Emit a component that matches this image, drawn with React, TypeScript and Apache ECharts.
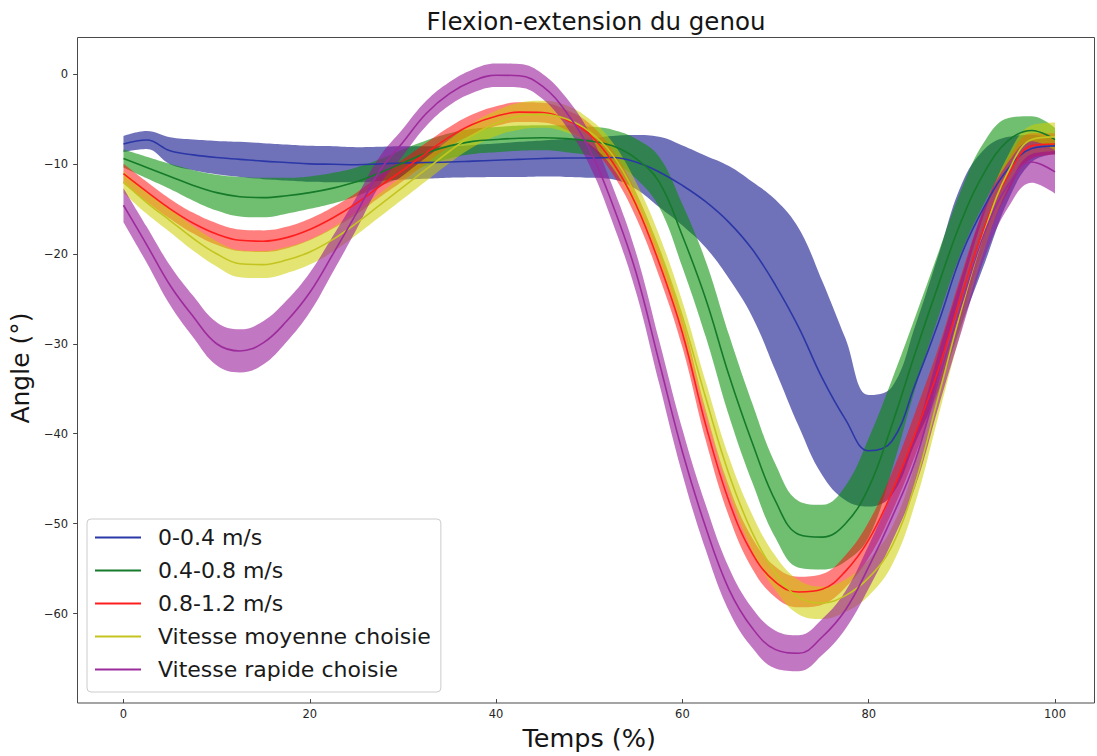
import React, { useEffect, useRef } from "react";
import * as echarts from "echarts";

const percents = [0, 2.5, 5, 7.5, 10, 12.5, 15, 17.5, 20, 22.5, 25, 27.5, 30, 32.5, 35, 37.5, 40, 42.5, 45, 47.5, 50, 52.5, 55, 57.5, 60, 62.5, 65, 67.5, 70, 72.5, 75, 77.5, 80, 82.5, 85, 87.5, 90, 92.5, 95, 97.5, 100];

const xTickLabels = ["0", "20", "40", "60", "80", "100"];
const yTicks = [-60, -50, -40, -30, -20, -10, 0];

const seriesNames = ["0-0.4 m/s", "0.4-0.8 m/s", "0.8-1.2 m/s", "Vitesse moyenne choisie", "Vitesse rapide choisie"];

const blueMean = [-7.8, -7.35, -8.55, -9.0, -9.3, -9.5, -9.7, -9.85, -10.0, -10.05, -10.1, -10.0, -9.9, -9.85, -9.8, -9.7, -9.6, -9.5, -9.4, -9.35, -9.35, -9.3, -9.8, -10.9, -12.4, -14.2, -16.5, -19.5, -23.5, -28.2, -33.8, -38.4, -41.9, -40.8, -34.5, -27.6, -20.0, -14.6, -10.5, -8.3, -8.0];
const blueSd = [0.9, 1.0, 1.5, 1.7, 1.85, 1.95, 2.0, 2.0, 2.0, 2.0, 1.95, 1.9, 1.85, 1.8, 1.75, 1.8, 1.85, 1.95, 2.0, 2.1, 2.2, 2.4, 3.0, 3.9, 4.45, 5.1, 6.25, 7.5, 9.5, 11.0, 10.8, 9.0, 6.2, 6.0, 6.5, 7.5, 7.8, 6.3, 3.5, 1.5, 0.9];

const greenMean = [-9.4, -10.4, -11.4, -12.4, -13.2, -13.65, -13.75, -13.55, -13.2, -12.7, -12.0, -11.0, -9.9, -8.8, -8.0, -7.5, -7.3, -7.15, -7.1, -7.2, -7.45, -8.0, -9.4, -12.0, -18.0, -25.0, -33.5, -41.0, -47.5, -51.2, -51.5, -50.0, -46.0, -39.0, -31.0, -23.4, -16.2, -10.8, -7.4, -6.3, -7.3];
const greenSd = [1.0, 1.2, 1.4, 1.7, 2.0, 2.2, 2.2, 2.0, 1.8, 1.7, 1.6, 1.5, 1.5, 1.4, 1.4, 1.4, 1.4, 1.4, 1.4, 1.5, 1.6, 1.8, 2.2, 2.8, 3.5, 4.2, 4.5, 4.4, 4.1, 3.7, 3.6, 4.2, 5.5, 5.0, 4.0, 3.6, 3.5, 3.4, 2.5, 1.6, 1.3];

const redMean = [-11.1, -13.1, -15.0, -16.6, -17.8, -18.5, -18.6, -18.2, -17.3, -16.0, -14.4, -12.5, -10.7, -8.8, -7.0, -5.6, -4.7, -4.25, -4.3, -5.1, -6.7, -9.8, -14.5, -21.0, -28.8, -39.0, -47.5, -53.3, -56.5, -57.6, -57.3, -55.3, -51.8, -46.5, -40.0, -32.8, -24.5, -16.8, -11.2, -8.0, -7.8];
const redSd = [1.1, 1.1, 1.1, 1.15, 1.2, 1.2, 1.2, 1.2, 1.2, 1.2, 1.2, 1.2, 1.2, 1.15, 1.1, 1.1, 1.1, 1.1, 1.1, 1.1, 1.2, 1.3, 1.4, 1.5, 1.6, 1.7, 1.7, 1.7, 1.7, 1.7, 1.7, 1.8, 2.0, 2.2, 2.4, 2.4, 2.4, 2.2, 1.8, 1.4, 1.2];

const yellowMean = [-12.0, -14.3, -16.3, -18.3, -20.0, -21.1, -21.2, -20.7, -19.8, -18.4, -16.6, -14.6, -12.6, -10.6, -8.6, -6.8, -5.5, -4.7, -4.5, -5.0, -6.4, -9.0, -13.5, -19.5, -27.0, -36.0, -44.5, -51.0, -55.5, -58.2, -58.8, -58.0, -56.0, -52.5, -45.5, -35.8, -26.0, -17.3, -10.8, -7.3, -7.0];
const yellowSd = [1.2, 1.25, 1.3, 1.35, 1.4, 1.5, 1.5, 1.45, 1.4, 1.35, 1.3, 1.3, 1.3, 1.3, 1.3, 1.35, 1.4, 1.5, 1.5, 1.5, 1.4, 1.4, 1.5, 1.6, 1.7, 1.8, 1.9, 2.0, 1.9, 1.9, 1.8, 1.8, 2.0, 2.1, 2.2, 2.2, 2.2, 2.0, 1.8, 1.6, 1.6];

const magentaMean = [-14.6, -19.0, -23.5, -27.0, -30.0, -30.8, -29.9, -27.5, -24.3, -20.0, -15.5, -10.8, -7.6, -4.4, -2.2, -0.8, -0.15, -0.2, -1.4, -4.2, -8.3, -14.5, -22.0, -32.0, -42.0, -50.4, -57.3, -61.6, -64.0, -64.4, -62.6, -59.6, -54.8, -49.3, -43.0, -34.0, -25.5, -17.5, -12.3, -9.8, -10.9];
const magentaSd = [1.9, 2.0, 2.2, 2.3, 2.4, 2.4, 2.4, 2.3, 2.2, 2.0, 1.8, 1.6, 1.5, 1.4, 1.3, 1.3, 1.3, 1.3, 1.4, 1.6, 1.8, 2.0, 2.2, 2.4, 2.5, 2.5, 2.4, 2.2, 2.1, 2.0, 2.0, 2.1, 2.4, 2.7, 2.9, 3.0, 3.0, 2.8, 2.5, 2.3, 2.4];

const means = [blueMean, greenMean, redMean, yellowMean, magentaMean];
const sds = [blueSd, greenSd, redSd, yellowSd, magentaSd];

const lineColors = ["#2b37a6", "#157a2a", "#ff1e1e", "#c4c420", "#9c2c9c"];
const fillColors = [
  "rgba(8,12,135,0.58)",
  "rgba(0,140,0,0.56)",
  "rgba(255,10,10,0.52)",
  "rgba(205,205,0,0.55)",
  "rgba(150,20,150,0.58)",
];

const FONT = "DejaVu Sans";

function buildOption() {
  const series: any[] = [];
  means.forEach((mean, i) => {
    const sd = sds[i];
    const lower = mean.map((m, k) => +(m - sd[k]).toFixed(3));
    const width = sd.map((s) => +(2 * s).toFixed(3));
    series.push({
      type: "line",
      name: "band-lo-" + i,
      stack: "band" + i,
      stackStrategy: "all",
      data: lower,
      symbol: "none",
      smooth: 0.4,
      lineStyle: { opacity: 0, width: 0 },
      silent: true,
      emphasis: { disabled: true },
      z: 1,
    });
    series.push({
      type: "line",
      name: "band-hi-" + i,
      stack: "band" + i,
      stackStrategy: "all",
      data: width,
      symbol: "none",
      smooth: 0.4,
      lineStyle: { opacity: 0, width: 0 },
      areaStyle: { color: fillColors[i], opacity: 1 },
      silent: true,
      emphasis: { disabled: true },
      z: 1,
    });
  });
  means.forEach((mean, i) => {
    series.push({
      type: "line",
      name: seriesNames[i],
      data: mean,
      symbol: "none",
      smooth: 0.4,
      lineStyle: { color: lineColors[i], width: 1.6 },
      itemStyle: { color: lineColors[i] },
      emphasis: { disabled: true },
      z: 3,
    });
  });

  return {
    animation: false,
    backgroundColor: "#ffffff",
    title: {
      text: "Flexion-extension du genou",
      left: 591,
      textAlign: "center",
      top: 4,
      textStyle: { fontFamily: FONT, fontSize: 24.5, fontWeight: "normal", color: "#151515" },
    },
    legend: {
      data: seriesNames,
      orient: "vertical",
      left: 87,
      top: 519,
      icon: "rect",
      itemWidth: 46,
      itemHeight: 2,
      itemGap: 0,
      padding: [2, 10, 6, 8],
      backgroundColor: "rgba(255,255,255,0.85)",
      borderColor: "#cccccc",
      borderWidth: 1,
      borderRadius: 4,
      textStyle: { fontFamily: FONT, fontSize: 22, color: "#1a1a1a", lineHeight: 33, padding: [0, 0, 0, 12] },
      selectedMode: false,
    },
    grid: { left: 123.3, width: 931.7, top: 37, height: 666, containLabel: false },
    xAxis: {
      type: "category",
      data: percents.map(String),
      boundaryGap: false,
      axisLine: { show: false, onZero: false },
      axisTick: { show: true, interval: 7, length: 4, lineStyle: { color: "#444", width: 1 } },
      axisLabel: {
        interval: 7,
        margin: 9,
        color: "#262626",
        fontFamily: FONT,
        fontSize: 11.5,
        formatter: (v: string) => (xTickLabels.indexOf(v) >= 0 ? v : ""),
      },
      splitLine: { show: false },
      name: "Temps (%)",
      nameLocation: "middle",
      nameGap: 23,
      nameTextStyle: { fontFamily: FONT, fontSize: 25.5, color: "#151515" },
    },
    yAxis: {
      type: "value",
      min: -69.5,
      max: 4.1,
      offset: 46.3,
      axisLine: { show: false, onZero: false },
      splitLine: { show: false },
      axisTick: { show: true, length: 4, lineStyle: { color: "#444", width: 1 }, customValues: yTicks },
      axisLabel: {
        customValues: yTicks,
        margin: 9,
        color: "#262626",
        fontFamily: FONT,
        fontSize: 11.5,
        formatter: (v: number) => String(v).replace("-", "\u2212"),
      },
      name: "Angle (°)",
      nameLocation: "middle",
      nameGap: 42,
      nameRotate: 90,
      nameTextStyle: { fontFamily: FONT, fontSize: 25, color: "#151515" },
    },
    graphic: [
      {
        type: "rect",
        silent: true,
        z: 10,
        shape: { x: 77.5, y: 37.5, width: 1017, height: 665.5 },
        style: { fill: "none", stroke: "#4a4a4a", lineWidth: 1 },
      },
    ],
    series,
  };
}

export default function App() {
  const ref = useRef<HTMLDivElement>(null);
  useEffect(() => {
    if (!ref.current) return;
    const chart = echarts.init(ref.current, undefined, { renderer: "svg" });
    chart.setOption(buildOption() as any);
    return () => chart.dispose();
  }, []);
  return (
    <div
      ref={ref}
      style={{ position: "fixed", left: 0, top: 0, width: 1097, height: 756, background: "#fff" }}
    />
  );
}
